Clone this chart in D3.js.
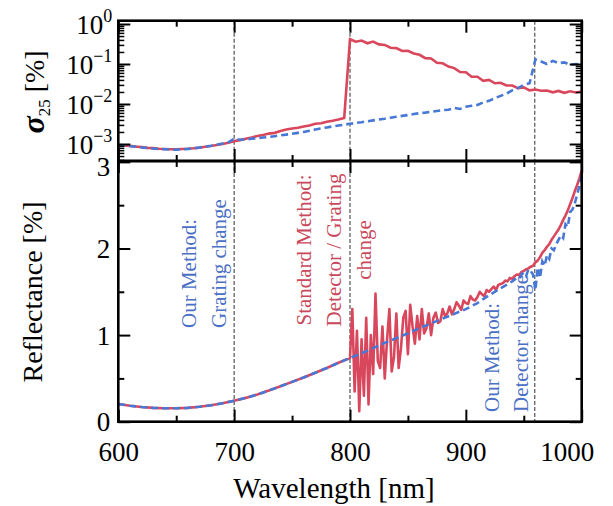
<!DOCTYPE html>
<html>
<head>
<meta charset="utf-8">
<script src="https://cdn.jsdelivr.net/npm/d3@7"></script>
<style>
  body { margin: 0; background: #fff; }
</style>
</head>
<body>
<svg id="chart" width="613" height="506"></svg>
<script>
// ---- data ----
// reflectance [%], smooth part, 600..930 nm every 10 nm
const reflWl = d3.range(600, 931, 10);
const reflSmooth = [0.205, 0.185, 0.170, 0.160, 0.155, 0.155, 0.160, 0.172, 0.190, 0.213,
  0.243, 0.275, 0.315, 0.360, 0.410, 0.460, 0.510, 0.565, 0.620, 0.680,
  0.735, 0.790, 0.850, 0.910, 0.965, 1.020, 1.080, 1.135, 1.190, 1.245,
  1.300, 1.370, 1.460, 1.540];
// our method (blue) tail, 940..1000 nm every 2 nm
const blueTailWl = d3.range(940, 1001, 2);
const blueTail = [1.62, 1.64, 1.66, 1.65, 1.70, 1.72, 1.68, 1.76, 1.74, 1.70,
  1.52, 1.78, 1.66, 1.85, 1.80, 1.92, 1.88, 2.00, 1.98, 2.05,
  2.10, 2.15, 2.12, 2.28, 2.25, 2.42, 2.45, 2.52, 2.62, 2.72, 2.85];
// standard method (red) after the detector/grating change, 802..1000 nm every 2 nm
const redNoisyWl = d3.range(802, 1001, 2);
const redNoisy = [1.30, 0.35, 1.05, 0.12, 0.95, 0.30, 1.20, 0.20, 1.00, 0.55,
  1.48, 0.70, 0.62, 1.10, 0.50, 0.95, 1.30, 0.58, 0.75, 1.25,
  0.62, 0.85, 1.20, 1.28, 0.78, 1.35, 1.10, 0.90, 1.22, 0.95,
  1.30, 1.02, 1.08, 1.25, 1.00,
  1.20, 1.26, 1.14, 1.16, 1.30, 1.22, 1.25, 1.33, 1.24, 1.30,
  1.38, 1.34, 1.29, 1.40, 1.37, 1.36, 1.45, 1.41, 1.40, 1.44,
  1.50, 1.47, 1.45, 1.52, 1.50, 1.53, 1.56, 1.52, 1.58, 1.59,
  1.60, 1.63, 1.62, 1.66, 1.65, 1.68, 1.70, 1.69, 1.73, 1.74,
  1.76, 1.77, 1.79, 1.80, 1.84, 1.86, 1.90, 1.95, 1.98, 2.02,
  2.05, 2.10, 2.14, 2.18, 2.22, 2.27, 2.33, 2.38, 2.44, 2.51,
  2.58, 2.66, 2.73, 2.81, 2.90];

// sigma_25 [%], 600..1000 nm every 5 nm
const sigWl = d3.range(600, 1001, 5);
const sigRed = [9.5e-4, 9.2e-4, 9.0e-4, 8.6e-4, 8.4e-4, 8.0e-4, 7.9e-4, 7.6e-4, 7.5e-4, 7.4e-4,
  7.4e-4, 7.5e-4, 7.6e-4, 7.8e-4, 8.1e-4, 8.5e-4, 8.9e-4, 9.4e-4, 1.0e-3, 1.08e-3,
  1.18e-3, 1.25e-3, 1.35e-3, 1.45e-3, 1.58e-3, 1.68e-3, 1.82e-3, 1.9e-3, 2.1e-3, 2.3e-3,
  2.45e-3, 2.55e-3, 2.75e-3, 2.9e-3, 3.2e-3, 3.3e-3, 3.6e-3, 3.8e-3, 4.1e-3, 4.5e-3,
  0.417, 0.360, 0.385, 0.330, 0.365, 0.310, 0.300, 0.255, 0.250, 0.212,
  0.215, 0.183, 0.170, 0.140, 0.138, 0.108, 0.104, 0.086, 0.079, 0.063,
  0.062, 0.048, 0.048, 0.038, 0.040, 0.033, 0.034, 0.029, 0.029, 0.025,
  0.026, 0.022, 0.023, 0.0215, 0.0218, 0.0196, 0.0212, 0.0190, 0.0208, 0.0195, 0.0206];
const sigBlue = [9.3e-4, 9.1e-4, 8.8e-4, 8.7e-4, 8.2e-4, 8.0e-4, 7.7e-4, 7.5e-4, 7.4e-4, 7.3e-4,
  7.2e-4, 7.4e-4, 7.5e-4, 7.8e-4, 8.2e-4, 8.6e-4, 9.0e-4, 9.6e-4, 1.03e-3, 1.1e-3,
  1.35e-3, 1.28e-3, 1.3e-3, 1.35e-3, 1.4e-3, 1.45e-3, 1.5e-3, 1.57e-3, 1.65e-3, 1.72e-3,
  1.8e-3, 1.9e-3, 2.0e-3, 2.15e-3, 2.3e-3, 2.45e-3, 2.6e-3, 2.75e-3, 2.9e-3, 3.05e-3,
  3.2e-3, 3.35e-3, 3.5e-3, 3.7e-3, 3.9e-3, 4.1e-3, 4.3e-3, 4.55e-3, 4.8e-3, 5.05e-3,
  5.3e-3, 5.6e-3, 5.9e-3, 6.1e-3, 6.4e-3, 6.7e-3, 7.0e-3, 7.2e-3, 8.0e-3, 7.5e-3,
  8.5e-3, 9.0e-3, 9.5e-3, 1.1e-2, 1.2e-2, 1.4e-2, 1.6e-2, 1.8e-2, 2.2e-2, 2.5e-2,
  3.0e-2, 3.3e-2, 0.13, 0.115, 0.10, 0.12, 0.105, 0.11, 0.095, 0.10, 0.097];

const changeLines = [700, 800, 959.5];
const xTicks = [600, 700, 800, 900, 1000];
const xMinor = [650, 750, 850, 950];
const reflTicks = [0, 1, 2, 3];
const reflMinor = [0.5, 1.5, 2.5];
const sigExp = [0, -1, -2, -3];

// ---- layout ----
const FONT = '"Times New Roman", Times, "Liberation Serif", Tinos, "Nimbus Roman", "DejaVu Serif", serif';
const red = "#d9475c", blue = "#4778d6";
const redText = "#c8485c", blueText = "#4a6fc4";
const left = 118.3, right = 581.7;
const topY0 = 20.7, split = 161, botY1 = 421.7;

const x = d3.scaleLinear().domain([600, 1000]).range([left, right]);
const yTop = d3.scaleLog().domain([3.76e-4, 1.21]).range([split, topY0]);
const yBot = d3.scaleLinear().domain([0, 3.01]).range([botY1, split]);

const svg = d3.select("#chart").style("font-family", FONT);

svg.append("clipPath").attr("id", "clipTop").append("rect")
  .attr("x", left).attr("y", topY0).attr("width", right - left).attr("height", split - topY0);
svg.append("clipPath").attr("id", "clipBot").append("rect")
  .attr("x", left).attr("y", split).attr("width", right - left).attr("height", botY1 - split);

// vertical change markers
[[topY0, split], [split, botY1]].forEach(([a, b]) => {
  svg.selectAll(null).data(changeLines).join("line")
    .attr("x1", d => x(d)).attr("x2", d => x(d))
    .attr("y1", a).attr("y2", b)
    .attr("stroke", "#444").attr("stroke-width", 1.1)
    .attr("stroke-dasharray", "4,2");
});

// ---- top panel lines ----
const topData = sigWl.map((w, i) => ({w, r: sigRed[i], b: sigBlue[i]}));
const gTop = svg.append("g").attr("clip-path", "url(#clipTop)");
gTop.append("path").datum(topData)
  .attr("fill", "none").attr("stroke", red).attr("stroke-width", 2.6)
  .attr("d", d3.line().x(d => x(d.w)).y(d => yTop(d.r)));
gTop.append("path").datum(topData)
  .attr("fill", "none").attr("stroke", blue).attr("stroke-width", 2.6)
  .attr("stroke-dasharray", "7,4")
  .attr("d", d3.line().x(d => x(d.w)).y(d => yTop(d.b)));

// ---- bottom panel lines ----
const redData = reflWl.filter(w => w <= 800).map((w, i) => ({w, v: reflSmooth[i]}))
  .concat(redNoisyWl.map((w, i) => ({w, v: redNoisy[i]})));
const blueData = reflWl.map((w, i) => ({w, v: reflSmooth[i]}))
  .concat(blueTailWl.map((w, i) => ({w, v: blueTail[i]})));
const gBot = svg.append("g").attr("clip-path", "url(#clipBot)");
const line = d3.line().x(d => x(d.w)).y(d => yBot(d.v));
gBot.append("path").datum(redData)
  .attr("fill", "none").attr("stroke", red).attr("stroke-width", 2.6)
  .attr("stroke-linejoin", "round").attr("d", line);
gBot.append("path").datum(blueData)
  .attr("fill", "none").attr("stroke", blue).attr("stroke-width", 2.6)
  .attr("stroke-dasharray", "7,4").attr("d", line);

// ---- inward ticks ----
function ticks(axis, scale, values, size, tx, ty, w) {
  const g = svg.append("g").attr("transform", `translate(${tx},${ty})`)
    .call(axis(scale).tickValues(values).tickSize(-size).tickFormat(""));
  g.select(".domain").remove();
  g.selectAll(".tick line").attr("stroke", "#000").attr("stroke-width", w);
}
const logMinor = [];
sigExp.concat([-4]).forEach(e => {
  for (let k = 2; k < 10; k++) logMinor.push(k * Math.pow(10, e));
});
const logMinorIn = logMinor.filter(v => v > 3.76e-4 && v < 1.21);
const logMajor = sigExp.map(e => Math.pow(10, e));

ticks(d3.axisLeft, yTop, logMajor, 12, left, 0, 2);
ticks(d3.axisRight, yTop, logMajor, 12, right, 0, 2);
ticks(d3.axisLeft, yTop, logMinorIn, 6, left, 0, 1.5);
ticks(d3.axisRight, yTop, logMinorIn, 6, right, 0, 1.5);
ticks(d3.axisLeft, yBot, reflTicks, 12, left, 0, 2);
ticks(d3.axisRight, yBot, reflTicks, 12, right, 0, 2);
ticks(d3.axisLeft, yBot, reflMinor, 6, left, 0, 2);
ticks(d3.axisRight, yBot, reflMinor, 6, right, 0, 2);
[topY0, split].forEach(yy => {
  ticks(d3.axisTop, x, xTicks, 12, 0, yy, 2);
  ticks(d3.axisTop, x, xMinor, 6, 0, yy, 2);
});
[split, botY1].forEach(yy => {
  ticks(d3.axisBottom, x, xTicks, 12, 0, yy, 2);
  ticks(d3.axisBottom, x, xMinor, 6, 0, yy, 2);
});

// frames
[[topY0, split], [split, botY1]].forEach(([a, b]) => {
  svg.append("rect").attr("x", left).attr("y", a)
    .attr("width", right - left).attr("height", b - a)
    .attr("fill", "none").attr("stroke", "#000").attr("stroke-width", 2.6);
});

// ---- tick labels ----
const xLab = svg.append("g").attr("transform", `translate(0,${botY1})`)
  .call(d3.axisBottom(x).tickValues(xTicks).tickSize(0).tickPadding(20).tickFormat(d3.format("d")));
xLab.attr("font-family", null).attr("font-size", 27);
xLab.select(".domain").remove();
xLab.selectAll("text").attr("fill", "#000")
  .attr("dx", d => d === 1000 ? -15 : 0);

const yLab = svg.append("g").attr("transform", `translate(${left},0)`)
  .call(d3.axisLeft(yBot).tickValues(reflTicks).tickSize(0).tickPadding(8).tickFormat(d3.format("d")));
yLab.attr("font-family", null).attr("font-size", 27);
yLab.select(".domain").remove();
yLab.selectAll("text").attr("fill", "#000")
  .attr("dy", d => d === 3 ? "0.5em" : "0.34em");

const sigLab = svg.append("g");
sigExp.forEach(e => {
  const t = sigLab.append("text")
    .attr("x", left - 6).attr("y", yTop(Math.pow(10, e)) + 10)
    .attr("text-anchor", "end").attr("font-size", 27);
  t.append("tspan").text("10");
  t.append("tspan").attr("font-size", 18).attr("dy", -12)
    .text(e === 0 ? "0" : "\u2212" + Math.abs(e));
});

// ---- axis titles ----
svg.append("text").attr("x", (left + right) / 2 - 16).attr("y", 498)
  .attr("text-anchor", "middle").attr("font-size", 29)
  .text("Wavelength [nm]");

svg.append("text").attr("transform", `translate(42,292) rotate(-90)`)
  .attr("text-anchor", "middle").attr("font-size", 28)
  .text("Reflectance [%]");

const sigT = svg.append("text").attr("transform", `translate(44,92) rotate(-90)`)
  .attr("text-anchor", "middle").attr("font-size", 28);
sigT.append("tspan").attr("font-weight", "bold").attr("font-style", "italic")
  .attr("font-size", 32).text("\u03c3");
sigT.append("tspan").attr("font-size", 17).attr("dy", 6).text("25");
sigT.append("tspan").attr("dy", -6).text(" [%]");

// ---- annotations ----
function note(lines, cx, y, anchor, color, gap) {
  lines.forEach((s, i) => {
    svg.append("text")
      .attr("transform", `translate(${cx + i * gap},${y}) rotate(-90)`)
      .attr("text-anchor", anchor).attr("font-size", 21)
      .attr("fill", color).text(s);
  });
}
note(["Our Method:", "Grating change"], 196, 328, "start", blueText, 30);
note(["Standard Method:", "Detector / Grating", "change"], 311, 250, "middle", redText, 30);
note(["Our Method:", "Detector change"], 499, 412, "start", blueText, 29);
</script>
</body>
</html>
